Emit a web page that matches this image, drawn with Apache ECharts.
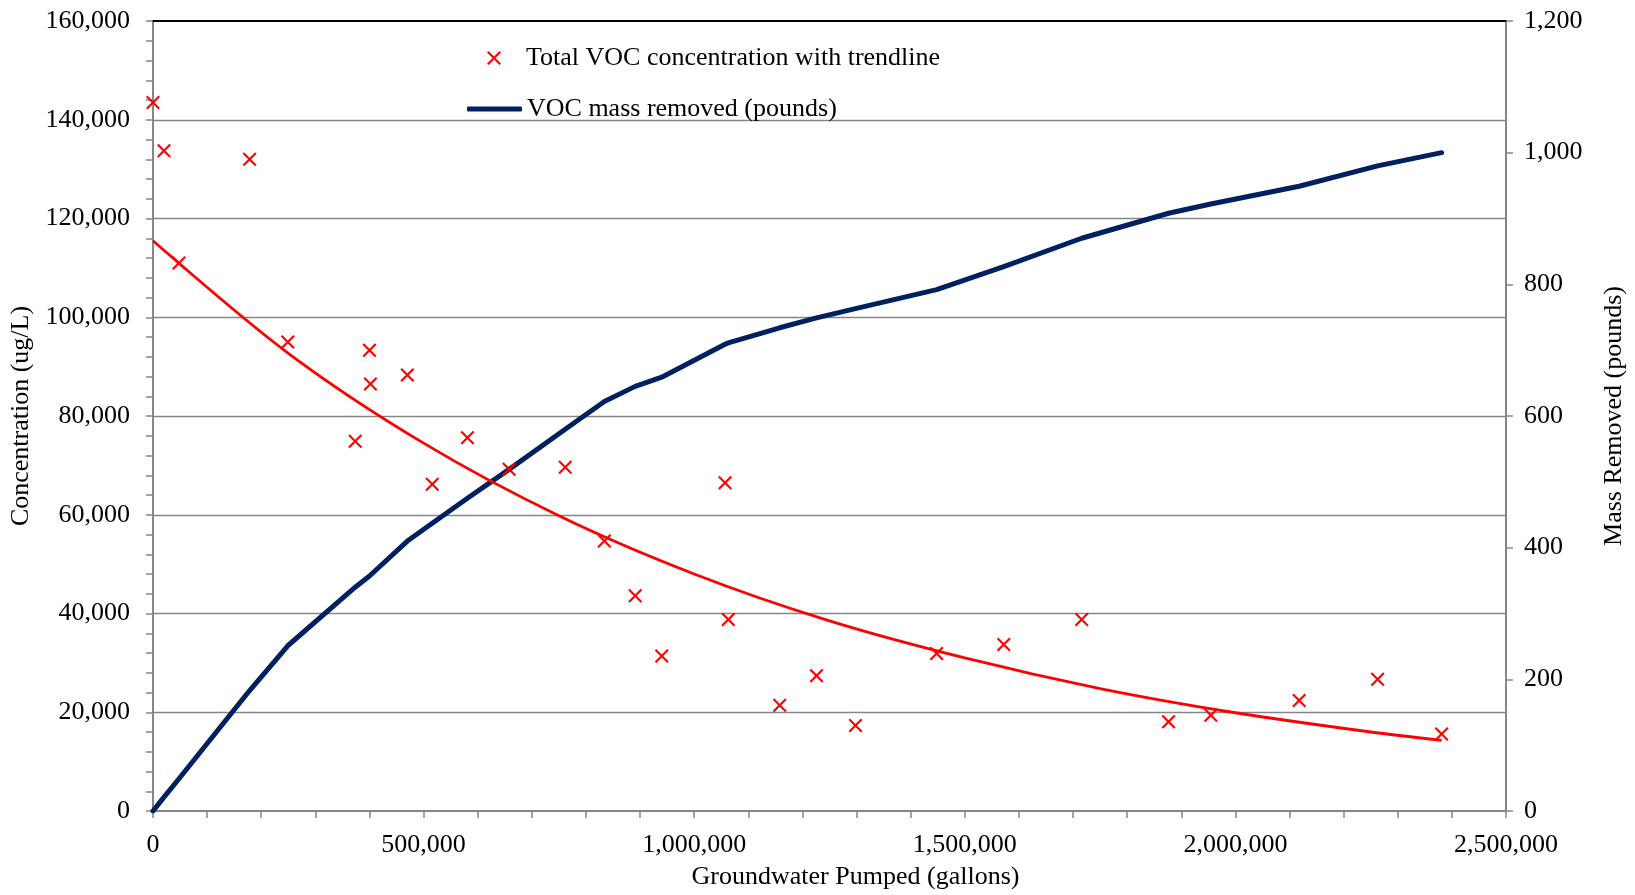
<!DOCTYPE html>
<html>
<head>
<meta charset="utf-8">
<title>Total VOC concentration and mass removed</title>
<script src="https://cdn.jsdelivr.net/npm/echarts@6/dist/echarts.min.js"></script>
<style>
  html, body { margin: 0; padding: 0; background: #fff; }
  #chart { width: 1635px; height: 895px; }
</style>
</head>
<body>
<div id="chart"></div>
<script>
// Groundwater pumped at each sampling event (gallons)
const gallons = [0, 20300, 48000, 178500, 249000, 373600, 400000, 401800, 470000, 516000,
  581000, 658000, 761700, 834000, 891000, 940000, 1057000, 1063000, 1158000, 1226000,
  1298000, 1448000, 1572000, 1716000, 1876500, 1954600, 2117800, 2262800, 2381000];

// Total VOC concentration at each event (ug/L)
const concentration = [143500, 133700, 111000, 132000, 95000, 74900, 93300, 86500, 88300, 66200,
  75600, 69200, 69600, 54700, 43600, 31400, 66500, 38800, 21400, 27400,
  17300, 31900, 33700, 38800, 18100, 19400, 22400, 26700, 15600];

// Cumulative VOC mass removed at each event (pounds)
const massPounds = [0, 21, 49, 183, 251, 340, 357, 358, 410, 437,
  475, 519, 580, 622, 645, 659, 709, 711, 734, 749,
  763, 792, 827, 870, 908, 922, 949, 980, 1000];

// Exponential trendline through the concentrations
const trendGallons = [0, 250000, 500000, 750000, 1000000, 1250000, 1500000, 1750000, 2000000, 2250000, 2381000];
const trendConc = [115500, 92700, 74500, 59800, 48000, 38500, 31000, 24800, 19900, 16000, 14300];

// Axis ticks
const xTicks = [0, 500000, 1000000, 1500000, 2000000, 2500000];
const concTicks = [0, 20000, 40000, 60000, 80000, 100000, 120000, 140000, 160000];
const massTicks = [0, 200, 400, 600, 800, 1000, 1200];

const SERIES_CONC = 'Total VOC concentration with trendline';
const SERIES_MASS = 'VOC mass removed (pounds)';

const FONT = "'Liberation Serif', 'Times New Roman', Times, serif";
const AXIS_GREY = '#868686';
const MASS_BLUE = '#012060';
const fmt = v => String(v).replace(/\B(?=(\d{3})+(?!\d))/g, ',');
const textBase = { fontFamily: FONT, fontSize: 26, color: '#000', fontWeight: 'normal' };
const crossPath = 'path://M0,1.5L1.5,0L7,5.5L12.5,0L14,1.5L8.5,7L14,12.5L12.5,14L7,8.5L1.5,14L0,12.5L5.5,7Z';

const step = arr => arr[1] - arr[0];
const label = extra => Object.assign({ formatter: fmt }, textBase, extra);

const chart = echarts.init(document.getElementById('chart'));
chart.setOption({
  animation: false,
  backgroundColor: '#fff',
  textStyle: { fontFamily: FONT },
  grid: { left: 153, right: 127, top: 21, bottom: 82 },
  legend: [
    {
      data: [{ name: SERIES_CONC }],
      left: 482, top: 40,
      itemWidth: 14, itemHeight: 14,
      selectedMode: false,
      formatter: name => '{t|' + name + '}',
      textStyle: Object.assign({}, textBase, {
        rich: { t: Object.assign({ padding: [0, 0, 0, 20] }, textBase) }
      })
    },
    {
      data: [{ name: SERIES_MASS, icon: 'roundRect', itemStyle: { color: MASS_BLUE } }],
      left: 462, top: 91,
      itemWidth: 55, itemHeight: 5,
      selectedMode: false,
      textStyle: textBase
    }
  ],
  xAxis: [
    {
      type: 'value',
      position: 'bottom',
      min: xTicks[0], max: xTicks[xTicks.length - 1], interval: step(xTicks),
      axisLine: { show: true, onZero: false, lineStyle: { color: AXIS_GREY, width: 2 } },
      axisTick: { show: true, length: 7, lineStyle: { color: AXIS_GREY, width: 1.5 } },
      minorTick: { show: true, splitNumber: 5, length: 7, lineStyle: { color: AXIS_GREY, width: 1.5 } },
      axisLabel: label({ margin: 21 }),
      splitLine: { show: false },
      name: 'Groundwater Pumped (gallons)',
      nameLocation: 'middle',
      nameGap: 53,
      nameTextStyle: Object.assign({ padding: [0, 0, 0, 52] }, textBase)
    },
    {
      type: 'value',
      position: 'top',
      min: xTicks[0], max: xTicks[xTicks.length - 1],
      axisLine: { show: true, onZero: false, lineStyle: { color: '#000', width: 2 } },
      axisTick: { show: false },
      axisLabel: { show: false },
      splitLine: { show: false }
    }
  ],
  yAxis: [
    {
      type: 'value',
      position: 'left',
      min: concTicks[0], max: concTicks[concTicks.length - 1], interval: step(concTicks),
      axisLine: { show: true, onZero: false, lineStyle: { color: AXIS_GREY, width: 2 } },
      axisTick: { show: true, length: 7, lineStyle: { color: AXIS_GREY, width: 1.5 } },
      minorTick: { show: true, splitNumber: 5, length: 7, lineStyle: { color: AXIS_GREY, width: 1.5 } },
      axisLabel: label({ margin: 23 }),
      splitLine: { show: true, showMinLine: false, showMaxLine: false, lineStyle: { color: AXIS_GREY, width: 1.4 } },
      name: 'Concentration (ug/L)',
      nameLocation: 'middle',
      nameGap: 115,
      nameRotate: 90,
      nameTextStyle: textBase
    },
    {
      type: 'value',
      position: 'right',
      min: massTicks[0], max: massTicks[massTicks.length - 1], interval: step(massTicks),
      axisLine: { show: true, onZero: false, lineStyle: { color: AXIS_GREY, width: 2 } },
      axisTick: { show: true, length: 7, lineStyle: { color: AXIS_GREY, width: 1.5 } },
      axisLabel: label({ margin: 18 }),
      splitLine: { show: false },
      name: 'Mass Removed (pounds)',
      nameLocation: 'middle',
      nameGap: 95,
      nameRotate: 90,
      nameTextStyle: textBase
    }
  ],
  series: [
    {
      name: SERIES_MASS,
      type: 'line',
      xAxisIndex: 0,
      yAxisIndex: 1,
      data: gallons.map((g, i) => [g, massPounds[i]]),
      symbol: 'none',
      lineStyle: { color: MASS_BLUE, width: 5, cap: 'round', join: 'round' },
      itemStyle: { color: MASS_BLUE },
      z: 2
    },
    {
      name: 'Exponential trendline',
      type: 'line',
      xAxisIndex: 0,
      yAxisIndex: 0,
      data: trendGallons.map((g, i) => [g, trendConc[i]]),
      smooth: 0.3,
      symbol: 'none',
      lineStyle: { color: '#ff0000', width: 2.8 },
      z: 3
    },
    {
      name: SERIES_CONC,
      type: 'scatter',
      xAxisIndex: 0,
      yAxisIndex: 0,
      data: gallons.map((g, i) => [g, concentration[i]]),
      symbol: crossPath,
      symbolSize: 14,
      itemStyle: { color: '#ff0000', opacity: 1 },
      z: 4
    }
  ]
});
</script>
</body>
</html>
